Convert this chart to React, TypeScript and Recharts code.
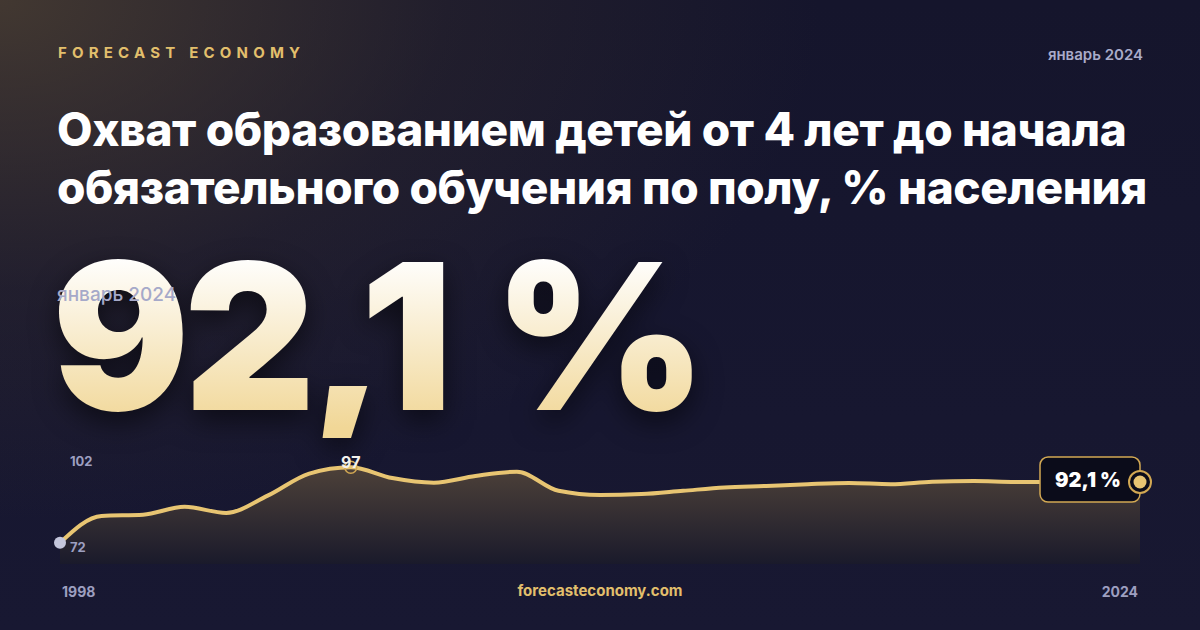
import React from "react";
import { ComposedChart, Area, XAxis, YAxis } from "recharts";

const years = [
  1998, 1999, 2000, 2001, 2002, 2003, 2004, 2005, 2006, 2007, 2008, 2009, 2010,
  2011, 2012, 2013, 2014, 2015, 2016, 2017, 2018, 2019, 2020, 2021, 2022, 2023, 2024,
];
const coverage = [
  72.0, 80.9, 81.3, 83.9, 81.9, 87.6, 94.9, 97.0, 93.4, 91.9, 94.1, 95.5, 89.2,
  87.8, 88.1, 89.2, 90.3, 90.8, 91.4, 91.8, 91.4, 92.2, 92.4, 92.1, 92.1, 92.0, 92.1,
];
const xTicks = [1998, 2024];
const yLabels = ["102", "72"];
const periodLabel = "январь 2024";
const titleLines = [
  "Охват образованием детей от 4 лет до начала",
  "обязательного обучения по полу, % населения",
];

const data = years.map((year, i) => ({ year, value: coverage[i] }));
const maxIdx = coverage.indexOf(Math.max(...coverage));
const lastIdx = coverage.length - 1;

const fmt = (v: number) => v.toFixed(1).replace(".", ",") + " %";

const GOLD = "#e8c572";
const GOLD_DARK = "#d2a853";
const MUTED = "#9d9fc0";
const FONT = "Inter, 'Noto Sans', sans-serif";

function Dot(props: any) {
  const { cx, cy, index } = props;
  if (index === 0) {
    return <circle key={index} cx={cx} cy={cy} r={6} fill="#c4c6dc" />;
  }
  if (index === maxIdx) {
    return (
      <g key={index}>
        <circle cx={cx} cy={cy} r={6} fill="none" stroke={GOLD_DARK} strokeWidth={1.5} />
        <text x={cx} y={cy - 5} textAnchor="middle" dominantBaseline="central" fill="#f3f1ec" fontSize={16} fontWeight={700} fontFamily={FONT}>
          {Math.round(coverage[maxIdx])}
        </text>
      </g>
    );
  }
  if (index === lastIdx) {
    return (
      <g key={index}>
        <rect x={cx - 100} y={cy - 25} width={100} height={45} rx={8} fill="#0b0c1a" stroke={GOLD_DARK} strokeWidth={1.5} />
        <text x={cx - 52} y={cy - 2} textAnchor="middle" dominantBaseline="central" fill="#ffffff" fontSize={20} fontWeight={900} fontFamily={FONT}>
          {fmt(coverage[lastIdx])}
        </text>
        <circle cx={cx} cy={cy} r={11} fill="#0b0c1a" stroke={GOLD_DARK} strokeWidth={2} />
        <circle cx={cx} cy={cy} r={6.5} fill={GOLD} />
      </g>
    );
  }
  return <g key={index} />;
}

function YearTick(props: any) {
  const { x, y, payload, index } = props;
  const first = index === 0;
  return (
    <text x={first ? x + 2 : x - 2} y={y + 27} textAnchor={first ? "start" : "end"} dominantBaseline="central" fill={MUTED} fontSize={14} fontWeight={700} fontFamily={FONT}>
      {payload.value}
    </text>
  );
}

export default function App() {
  return (
    <div
      style={{
        position: "absolute",
        left: 0,
        top: 0,
        width: 1200,
        height: 630,
        overflow: "hidden",
        fontFamily: FONT,
        background:
          "radial-gradient(ellipse 820px 520px at 0% 0%, rgba(74,62,50,0.85) 0%, rgba(60,50,45,0.3) 55%, rgba(22,22,48,0) 100%), linear-gradient(180deg, #15152c 0%, #181832 100%)",
      }}
    >
      <div style={{ position: "absolute", left: 58, top: 45, fontSize: 15, lineHeight: "15px", fontWeight: 700, letterSpacing: 5.2, color: "#e2bf6c" }}>
        FORECAST ECONOMY
      </div>
      <div style={{ position: "absolute", right: 57, top: 46, fontSize: 15, lineHeight: "17px", fontWeight: 600, color: "#a9abc9" }}>
        {periodLabel}
      </div>
      <div style={{ position: "absolute", left: 57, top: 100, fontSize: 46, lineHeight: "58px", fontWeight: 800, color: "#ffffff", letterSpacing: -0.4, whiteSpace: "nowrap" }}>
        {titleLines.map((l) => (
          <div key={l}>{l}</div>
        ))}
      </div>
      <div
        style={{
          position: "absolute",
          left: 52,
          top: 234,
          fontSize: 204,
          lineHeight: "204px",
          fontWeight: 900,
          letterSpacing: -6,
          wordSpacing: 12,
          whiteSpace: "nowrap",
          background: "linear-gradient(180deg, #ffffff 10%, #f1d797 95%)",
          WebkitBackgroundClip: "text",
          backgroundClip: "text",
          color: "transparent",
          filter: "drop-shadow(0 10px 14px rgba(0,0,0,0.55))",
        }}
      >
        {fmt(coverage[lastIdx])}
      </div>
      <div style={{ position: "absolute", left: 57, top: 283, fontSize: 19, lineHeight: "24px", fontWeight: 500, color: "#a6a9c9" }}>
        {periodLabel}
      </div>

      <div style={{ position: "absolute", left: 0, top: 0 }}>
        <ComposedChart width={1200} height={630} data={data} margin={{ top: 443, right: 60, bottom: 36, left: 60 }}>
          <defs>
            <linearGradient id="areaFill" x1="0" y1="0" x2="0" y2="1">
              <stop offset="0%" stopColor="#4d4139" stopOpacity={1} />
              <stop offset="100%" stopColor="#1a1a2b" stopOpacity={1} />
            </linearGradient>
          </defs>
          <XAxis
            dataKey="year"
            type="number"
            domain={[1998, 2024]}
            ticks={xTicks}
            height={30}
            axisLine={false}
            tickLine={false}
            tickSize={0}
            tickMargin={0}
            tick={<YearTick />}
            interval={0}
          />
          <YAxis hide domain={[65, 105]} />
          <Area
            type="monotone"
            dataKey="value"
            stroke={GOLD}
            strokeWidth={4}
            fill="url(#areaFill)"
            fillOpacity={1}
            dot={<Dot />}
            activeDot={false}
            isAnimationActive={false}
          />
        </ComposedChart>
      </div>

      <div style={{ position: "absolute", left: 70, top: 453, fontSize: 13, lineHeight: "16px", fontWeight: 700, color: MUTED }}>{yLabels[0]}</div>
      <div style={{ position: "absolute", left: 70, top: 539, fontSize: 13, lineHeight: "16px", fontWeight: 700, color: MUTED }}>{yLabels[1]}</div>
      <div style={{ position: "absolute", left: 0, width: 1200, top: 582, textAlign: "center", fontSize: 15, lineHeight: "18px", fontWeight: 700, color: "#e2bf6c" }}>
        forecasteconomy.com
      </div>
    </div>
  );
}
